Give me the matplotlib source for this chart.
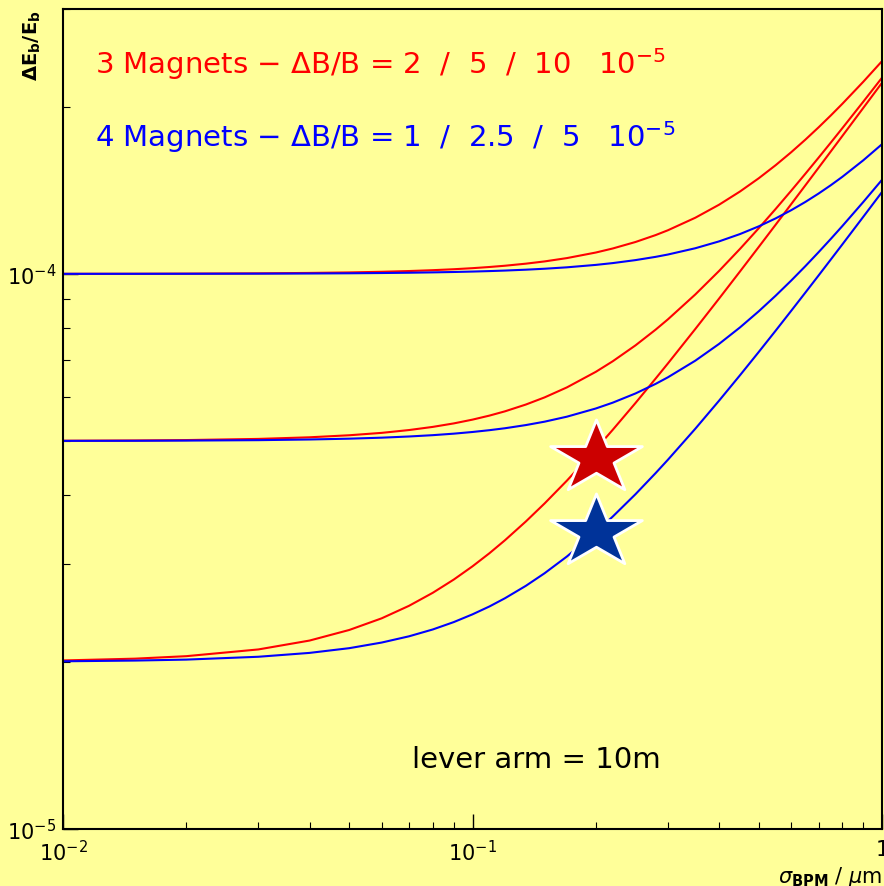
"""Energy resolution vs BPM resolution, 3 vs 4 magnet chicane."""

import matplotlib

matplotlib.use("Agg")
import matplotlib.pyplot as plt
import numpy as np
from matplotlib.path import Path
from matplotlib.ticker import NullFormatter

# sigma_BPM in micrometre
sigma_bpm = [0.01, 0.015, 0.02, 0.03, 0.04, 0.05, 0.06, 0.07, 0.08, 0.09, 0.1, 0.11,
             0.12, 0.135, 0.15, 0.17, 0.2, 0.22, 0.25, 0.28, 0.3, 0.35, 0.4, 0.45,
             0.5, 0.55, 0.6, 0.65, 0.7, 0.75, 0.8, 0.9, 1.0]

# dE_b/E_b in units of 1e-5
red_10 = [10.002, 10.005, 10.01, 10.022, 10.039, 10.060, 10.087, 10.118, 10.154, 10.194,
          10.239, 10.289, 10.343, 10.432, 10.530, 10.676, 10.925, 11.110, 11.413, 11.745,
          11.982, 12.621, 13.321, 14.072, 14.866, 15.697, 16.560, 17.450, 18.362, 19.294,
          20.243, 22.182, 24.166]
red_5 = [5.005, 5.011, 5.019, 5.043, 5.077, 5.120, 5.171, 5.232, 5.301, 5.378, 5.463,
         5.555, 5.654, 5.816, 5.991, 6.244, 6.660, 6.959, 7.433, 7.934, 8.280, 9.181,
         10.121, 11.091, 12.083, 13.092, 14.115, 15.149, 16.191, 17.241, 18.296, 20.422,
         22.561]
red_2 = [2.012, 2.027, 2.048, 2.106, 2.185, 2.283, 2.396, 2.524, 2.664, 2.814, 2.973,
         3.139, 3.312, 3.581, 3.859, 4.241, 4.833, 5.237, 5.852, 6.477, 6.896, 7.956,
         9.024, 10.100, 11.180, 12.264, 13.351, 14.439, 15.529, 16.621, 17.713, 19.901,
         22.091]
blue_10 = [10.001, 10.002, 10.004, 10.009, 10.015, 10.024, 10.035, 10.047, 10.062, 10.078,
           10.096, 10.116, 10.138, 10.175, 10.215, 10.275, 10.379, 10.457, 10.587, 10.731,
           10.835, 11.121, 11.442, 11.795, 12.178, 12.588, 13.021, 13.477, 13.953, 14.446,
           14.955, 16.016, 17.123]
blue_5 = [5.002, 5.004, 5.008, 5.017, 5.031, 5.048, 5.069, 5.094, 5.122, 5.154, 5.190,
          5.229, 5.271, 5.341, 5.417, 5.530, 5.721, 5.861, 6.089, 6.336, 6.511, 6.976,
          7.478, 8.008, 8.562, 9.135, 9.724, 10.326, 10.940, 11.562, 12.192, 13.472,
          14.772]
blue_2 = [2.005, 2.011, 2.019, 2.043, 2.076, 2.117, 2.167, 2.224, 2.288, 2.359, 2.436,
          2.517, 2.604, 2.742, 2.889, 3.096, 3.425, 3.654, 4.009, 4.376, 4.625, 5.260,
          5.909, 6.567, 7.232, 7.902, 8.577, 9.254, 9.933, 10.615, 11.298, 12.669,
          14.043]

# working points (stars)
star_sigma = [0.2, 0.2]
star_vals = [4.66, 3.43]

xtick_vals = [0.01, 0.1, 1.0]
xtick_labels = ["$10^{-2}$", "$10^{-1}$", "1"]
ytick_vals = [1e-5, 1e-4]
ytick_labels = ["$10^{-5}$", "$10^{-4}$"]

BG = "#ffff99"
RED = "#ff0000"
BLUE = "#0000ff"
SCALE = 1e-5

plt.rcParams["font.family"] = ["DejaVu Sans"]
plt.rcParams["mathtext.fontset"] = "dejavusans"

fig = plt.figure(figsize=(8.84, 8.87), dpi=100, facecolor=BG)
ax = fig.add_axes([63 / 884, 57 / 887, 819 / 884, 820 / 887])
ax.set_facecolor(BG)

x = np.array(sigma_bpm)
for vals in (red_10, red_5, red_2):
    ax.plot(x, np.array(vals) * SCALE, color=RED, lw=1.5)
for vals in (blue_10, blue_5, blue_2):
    ax.plot(x, np.array(vals) * SCALE, color=BLUE, lw=1.5)

# five-pointed star, a little flattened like the original
ang = np.pi / 2 + np.arange(10) * np.pi / 5
rad = np.where(np.arange(10) % 2 == 0, 1.0, 0.382)
verts = np.column_stack([rad * np.cos(ang), 0.8 * rad * np.sin(ang)])
verts = np.vstack([verts, verts[:1]])
codes = [Path.MOVETO] + [Path.LINETO] * 9 + [Path.CLOSEPOLY]
star = Path(verts, codes)

for s, v, c in zip(star_sigma, star_vals, ["#cc0000", "#003399"]):
    ax.plot([s], [v * SCALE], marker=star, ms=66, mfc=c, mec="white", mew=2,
            ls="none", zorder=5)

ax.set_xscale("log")
ax.set_yscale("log")
ax.set_xlim(0.01, 1.0)
ax.set_ylim(1e-5, 3e-4)

ax.set_xticks(xtick_vals, labels=xtick_labels)
ax.set_yticks(ytick_vals, labels=ytick_labels)
ax.xaxis.set_minor_formatter(NullFormatter())
ax.yaxis.set_minor_formatter(NullFormatter())
ax.tick_params(which="both", direction="in", top=False, right=False,
               labelsize=15, colors="black")
ax.tick_params(which="major", length=11, width=1)
ax.tick_params(which="minor", length=5, width=0.8)
ax.tick_params(axis="x", pad=7)
ax.tick_params(axis="y", pad=5)
for sp in ax.spines.values():
    sp.set_linewidth(1.5)

ax.text(0.039, 0.922, "3 Magnets \u2212 \u0394B/B = 2  /  5  /  10   10$^{-5}$",
        transform=ax.transAxes, color=RED, fontsize=21, va="baseline")
ax.text(0.039, 0.833, "4 Magnets \u2212 \u0394B/B = 1  /  2.5  /  5   10$^{-5}$",
        transform=ax.transAxes, color=BLUE, fontsize=21, va="baseline")
ax.text(0.426, 0.0756, "lever arm = 10m", transform=ax.transAxes,
        color="black", fontsize=21, va="baseline")

ax.text(-0.038, 1.0, r"$\mathbf{\Delta E_{b}/E_{b}}$", transform=ax.transAxes,
        rotation=90, ha="center", va="top", fontsize=14)
ax.text(1.0, -0.057, r"$\sigma_{\mathbf{BPM}}$ / $\mu$m", transform=ax.transAxes,
        ha="right", va="center", fontsize=15)

fig.savefig("out.png", dpi=100, facecolor=BG)
